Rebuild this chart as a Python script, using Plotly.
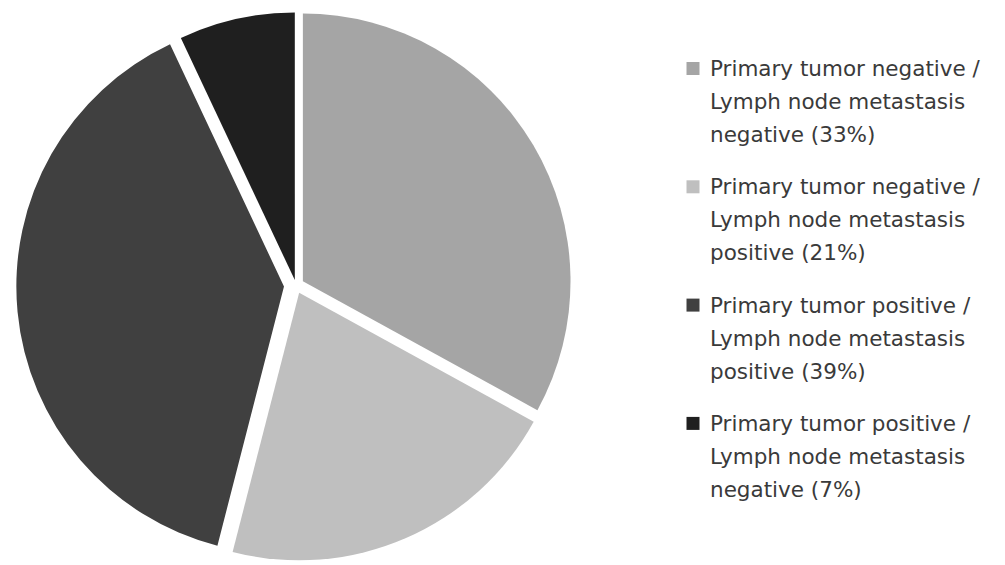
import plotly.graph_objects as go

# Data
categories = [
    "Primary tumor negative / Lymph node metastasis negative",
    "Primary tumor negative / Lymph node metastasis positive",
    "Primary tumor positive / Lymph node metastasis positive",
    "Primary tumor positive / Lymph node metastasis negative",
]
legend_lines = [
    ["Primary tumor negative /", "Lymph node metastasis", "negative (33%)"],
    ["Primary tumor negative /", "Lymph node metastasis", "positive (21%)"],
    ["Primary tumor positive /", "Lymph node metastasis", "positive (39%)"],
    ["Primary tumor positive /", "Lymph node metastasis", "negative (7%)"],
]
values = [33, 21, 39, 7]
colors = ["#a5a5a5", "#bfbfbf", "#404040", "#1f1f1f"]
pulls = [0.03, 0.03, 0.045, 0.02]

W, H = 1005, 565

fig = go.Figure(go.Pie(
    labels=categories,
    values=values,
    sort=False,
    direction="clockwise",
    rotation=0,
    pull=pulls,
    marker=dict(colors=colors, line=dict(color="white", width=0)),
    textinfo="none",
    hoverinfo="label+percent",
    showlegend=False,
    domain=dict(x=[0.0, 0.589], y=[0.0, 0.99]),
))

# Custom legend (text lines + colour squares), matching the reference spacing
first_baseline = 76
entry_step = 118.3
line_step = 33
font_size = 21.5
annotations = []
shapes = []
for i, lines in enumerate(legend_lines):
    base = first_baseline + i * entry_step
    for j, txt in enumerate(lines):
        b = base + j * line_step
        yc = b - 0.35 * font_size
        annotations.append(dict(
            x=709 / W, y=1 - yc / H, xref="paper", yref="paper",
            xanchor="left", yanchor="middle", showarrow=False,
            text=txt, borderpad=0,
            font=dict(family="DejaVu Sans", size=font_size, color="#3a3a3a"),
        ))
    sc = base - 7.5
    half = 6.5
    shapes.append(dict(
        type="rect", xref="paper", yref="paper",
        x0=(693 - half) / W, x1=(693 + half) / W,
        y0=1 - (sc + half) / H, y1=1 - (sc - half) / H,
        fillcolor=colors[i], line=dict(width=0),
    ))

fig.update_layout(
    width=W, height=H,
    margin=dict(l=0, r=0, t=0, b=0),
    paper_bgcolor="white",
    plot_bgcolor="white",
    annotations=annotations,
    shapes=shapes,
)

fig.write_html("out.html", config={"displayModeBar": False},
               post_script="document.body.style.margin='0';")
